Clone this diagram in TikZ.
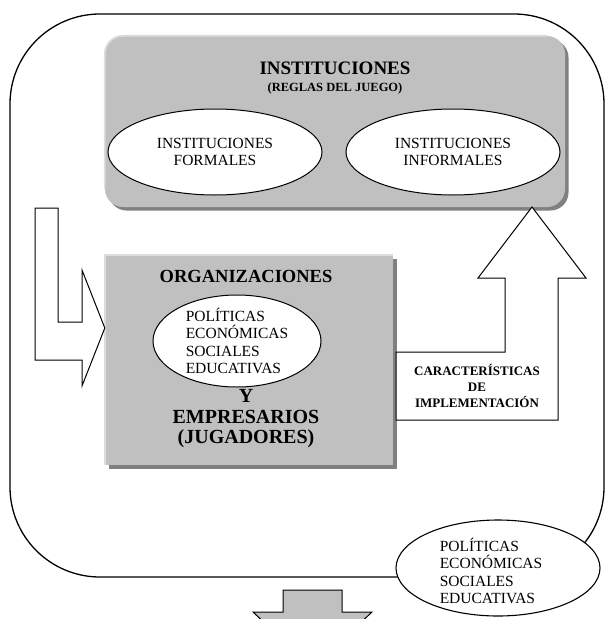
\documentclass[tikz,border=0pt]{standalone}
\usepackage{fontspec}
\setmainfont{Liberation Serif}
\usetikzlibrary{shapes.geometric,shadows}

\definecolor{boxgray}{HTML}{C0C0C0}
\definecolor{shadowgray}{HTML}{808080}
\definecolor{edgelight}{HTML}{DCDCDC}

\tikzset{
  greybox/.style={rectangle, fill=boxgray, inner sep=0pt,
    drop shadow={shadow xshift=3.5pt, shadow yshift=-3.5pt, fill=shadowgray, opacity=1}},
  lightedge/.style={draw=edgelight, line width=1.8pt},
  oval/.style={ellipse, draw=black, fill=white, line width=1pt, inner sep=0pt},
  blockarrow/.style={draw=black, line width=1pt, line join=miter},
  ovaltext/.style={font=\fontsize{15.5}{17.5}\selectfont, align=left},
  ovalcenter/.style={font=\fontsize{15.5}{17.5}\selectfont, align=center},
  bigtitle/.style={font=\bfseries\fontsize{19}{22}\selectfont},
  subtitle/.style={font=\bfseries\fontsize{12.5}{14}\selectfont},
  players/.style={font=\bfseries\fontsize{20}{20.5}\selectfont, align=center},
  smallbold/.style={font=\bfseries\fontsize{13}{16}\selectfont, align=center},
  frameline/.style={draw=black, line width=1.3pt},
}

\begin{document}
\begin{tikzpicture}[x=1pt,y=-1pt]
\useasboundingbox (0,0) rectangle (608,619);
\clip (0,0) rectangle (608,619);

% outer frame
\draw[frameline, rounded corners=90pt] (10,14) rectangle (604,577);

% INSTITUCIONES box
\node[greybox, rounded corners=18pt, minimum width=460pt, minimum height=171pt] (inst) at (335,121.5) {};
\draw[lightedge, rounded corners=18pt] ([yshift=18pt]inst.south west) |- ([xshift=-18pt]inst.north east);
\node[bigtitle] (insttitle) at (335,68) {INSTITUCIONES};
\node[subtitle] (instsub) at (335,88) {(REGLAS DEL JUEGO)};
\node[oval, minimum width=214pt, minimum height=86pt] (formal) at (215,152) {};
\node[ovalcenter] (formaltxt) at (formal) {INSTITUCIONES\\FORMALES};
\node[oval, minimum width=214pt, minimum height=86pt] (informal) at (453,152) {};
\node[ovalcenter] (informaltxt) at (informal) {INSTITUCIONES\\INFORMALES};

% ORGANIZACIONES box
\node[greybox, minimum width=288pt, minimum height=210pt] (org) at (249,360) {};
\draw[lightedge] (org.south west) |- (org.north east);
\node[bigtitle, font=\bfseries\fontsize{18.5}{22}\selectfont] (orgtitle) at (246,276) {ORGANIZACIONES};
\node[oval, minimum width=168pt, minimum height=92pt] (pol) at (237,341) {};
\node[ovaltext] (poltxt) at (237,341) {POLÍTICAS\\ECONÓMICAS\\SOCIALES\\EDUCATIVAS};
\node[players] (jug) at (246,419) {Y\\EMPRESARIOS\\(JUGADORES)};

% left bent arrow
\coordinate (lt) at (35,208);
\draw[blockarrow, fill=white] (lt) -- (58,208) -- (58,322) -- (82,322) -- (82,270)
  -- (org.west |- 0,328) -- (82,386) -- (82,360) -- (35,360) -- cycle;

% up arrow with text box
\draw[blockarrow, fill=white] (396,352) -- (505,352) -- (505,278) -- (478,278)
  -- (532,207) -- (586,278) -- (558,278) -- (558,420) -- (396,420) -- cycle;
\node[smallbold] (impl) at (477,386) {CARACTERÍSTICAS\\DE\\IMPLEMENTACIÓN};

% bottom ellipse
\node[oval, line width=1.1pt, minimum width=204pt, minimum height=96pt] (pol2) at (498,568) {};
\node[ovaltext] (pol2txt) at (491,571) {POLÍTICAS\\ECONÓMICAS\\SOCIALES\\EDUCATIVAS};

% bottom down arrow
\draw[blockarrow, fill=boxgray] (283,590) -- (342,590) -- (342,612) -- (372,612)
  -- (312.5,668) -- (253,612) -- (283,612) -- cycle;
\end{tikzpicture}
\end{document}
